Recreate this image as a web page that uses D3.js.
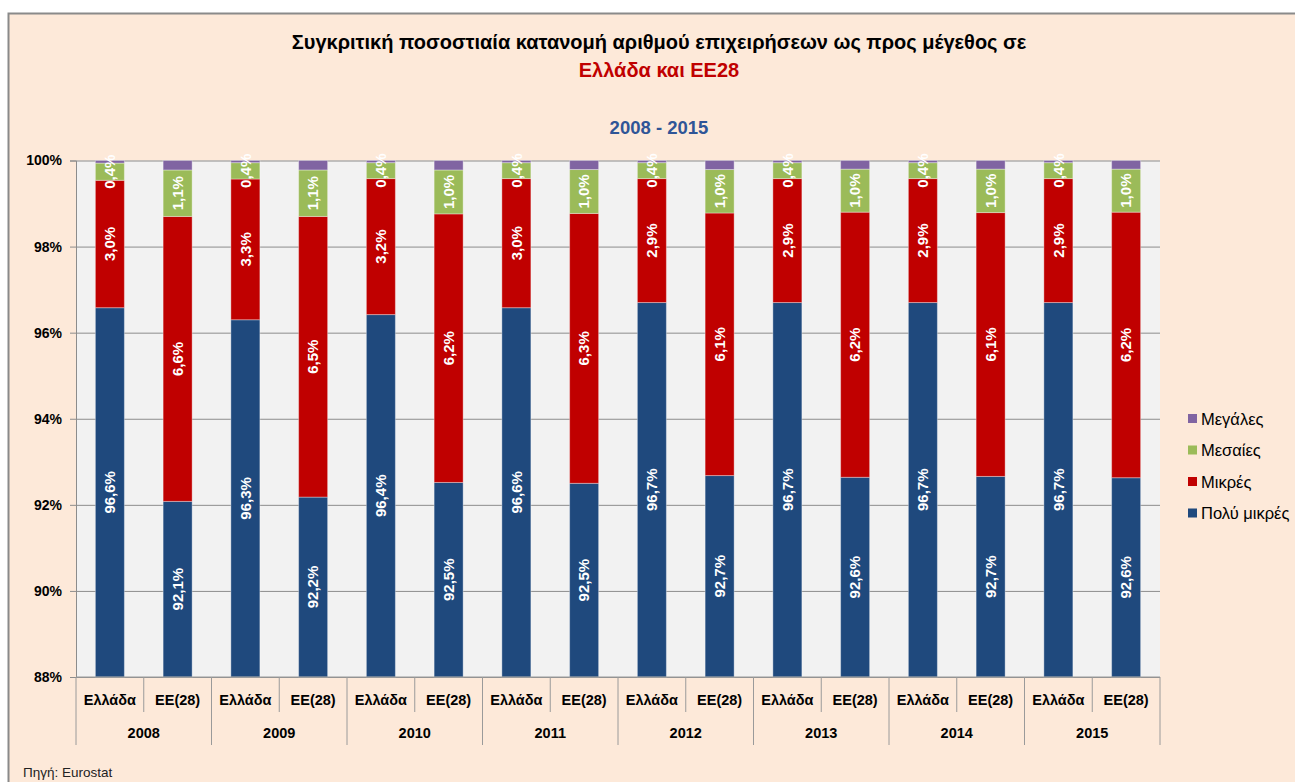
<!DOCTYPE html>
<html>
<head>
<meta charset="utf-8">
<script src="https://cdn.jsdelivr.net/npm/d3@7"></script>
<style>
  body { margin: 0; background: #fff; }
  text { font-family: "Liberation Sans", Arial, sans-serif; }
</style>
</head>
<body>
<script>
// data (percent of enterprises)
var years = ["2008", "2009", "2010", "2011", "2012", "2013", "2014", "2015"];
var areas = ["Ελλάδα", "ΕΕ(28)"];
var keys = ["vsmall", "small", "medium", "large"];
var keyNames = ["Πολύ μικρές", "Μικρές", "Μεσαίες", "Μεγάλες"];
var colors = ["#1F497D", "#C00000", "#9BBB59", "#8064A2"];

var grVsmall = [96.58, 96.30, 96.42, 96.58, 96.70, 96.70, 96.70, 96.70];
var grSmall  = [2.96, 3.27, 3.16, 3.00, 2.88, 2.88, 2.88, 2.88];
var grMedium = [0.40, 0.38, 0.37, 0.37, 0.37, 0.37, 0.37, 0.37];
var grLarge  = [0.06, 0.05, 0.05, 0.05, 0.05, 0.05, 0.05, 0.05];

var euVsmall = [92.08, 92.18, 92.52, 92.50, 92.68, 92.64, 92.66, 92.63];
var euSmall  = [6.62, 6.52, 6.24, 6.27, 6.10, 6.16, 6.13, 6.17];
var euMedium = [1.08, 1.08, 1.02, 1.02, 1.01, 1.00, 1.01, 1.00];
var euLarge  = [0.22, 0.22, 0.22, 0.21, 0.21, 0.20, 0.20, 0.20];

var yTicks = [88, 90, 92, 94, 96, 98, 100];

var width = 1295, height = 782;
var plot = {left: 76, right: 1160, top: 160.5, bottom: 677};

var rows = [];
years.forEach(function(yr, i) {
  rows.push({year: yr, area: areas[0], vsmall: grVsmall[i], small: grSmall[i], medium: grMedium[i], large: grLarge[i]});
  rows.push({year: yr, area: areas[1], vsmall: euVsmall[i], small: euSmall[i], medium: euMedium[i], large: euLarge[i]});
});

var svg = d3.select("body").append("svg")
    .attr("width", width)
    .attr("height", height);

// outer chart frame
svg.append("rect")
    .attr("x", 8.5).attr("y", 13.5)
    .attr("width", width + 10).attr("height", height + 10)
    .attr("fill", "#FDE9D9")
    .attr("stroke", "#8A8A8A")
    .attr("stroke-width", 2);

// titles
svg.append("text")
    .attr("x", 659).attr("y", 49)
    .attr("text-anchor", "middle")
    .style("font-size", "20px").style("font-weight", "bold")
    .attr("fill", "#000")
    .text("Συγκριτική ποσοστιαία κατανομή αριθμού επιχειρήσεων ως προς μέγεθος σε");
svg.append("text")
    .attr("x", 659).attr("y", 77)
    .attr("text-anchor", "middle")
    .style("font-size", "20px").style("font-weight", "bold")
    .attr("fill", "#C00000")
    .text("Ελλάδα και ΕΕ28");
svg.append("text")
    .attr("x", 659).attr("y", 134)
    .attr("text-anchor", "middle")
    .style("font-size", "18.5px").style("font-weight", "bold")
    .attr("fill", "#2F5597")
    .text("2008 - 2015");

var x0 = d3.scaleBand().domain(years).range([plot.left, plot.right]);
var x1 = d3.scaleBand().domain(areas).range([0, x0.bandwidth()])
    .paddingInner(0.572).paddingOuter(0.286);
var y = d3.scaleLinear().domain([88, 100]).range([plot.bottom, plot.top]).clamp(true);

// plot area
svg.append("rect")
    .attr("x", plot.left).attr("y", plot.top)
    .attr("width", plot.right - plot.left).attr("height", plot.bottom - plot.top)
    .attr("fill", "#F2F2F2");

// gridlines
svg.append("g")
    .attr("transform", "translate(" + plot.left + ",0)")
    .call(d3.axisLeft(y).tickValues(yTicks).tickSize(-(plot.right - plot.left)).tickFormat(""))
    .call(function(g) {
      g.select(".domain").remove();
      g.selectAll("line").attr("stroke", "#8C8C8C");
    });

// y axis
svg.append("g")
    .attr("transform", "translate(" + plot.left + ",0)")
    .call(d3.axisLeft(y).tickValues(yTicks).tickSize(6).tickPadding(8)
        .tickFormat(function(d) { return d + "%"; }))
    .call(function(g) {
      g.select(".domain").attr("stroke", "#8C8C8C");
      g.selectAll("line").attr("stroke", "#8C8C8C");
      g.selectAll("text")
          .style("font-size", "14px").style("font-weight", "bold")
          .style("font-family", "'Liberation Sans', Arial, sans-serif")
          .attr("fill", "#000");
    });

var series = d3.stack().keys(keys)(rows);

var groups = svg.selectAll(".layer")
    .data(series)
  .enter().append("g")
    .attr("class", "layer")
    .attr("fill", function(d, i) { return colors[i]; });

groups.selectAll("rect")
    .data(function(d) { return d; })
  .enter().append("rect")
    .attr("x", function(d) { return x0(d.data.year) + x1(d.data.area); })
    .attr("width", x1.bandwidth())
    .attr("y", function(d) { return y(d[1]); })
    .attr("height", function(d) { return y(d[0]) - y(d[1]); })
    .attr("stroke", "#ffffff")
    .attr("stroke-opacity", 0.35)
    .attr("stroke-width", 1);

// data labels (not for the largest size class)
function fmt(v) { return v.toFixed(1).replace(".", ",") + "%"; }

series.slice(0, 3).forEach(function(s) {
  svg.append("g").selectAll("text")
      .data(s)
    .enter().append("text")
      .attr("transform", function(d) {
        var cx = x0(d.data.year) + x1(d.data.area) + x1.bandwidth() / 2;
        var cy = (y(d[0]) + y(d[1])) / 2;
        return "translate(" + cx + "," + cy + ") rotate(-90)";
      })
      .attr("text-anchor", "middle")
      .attr("dy", "0.35em")
      .attr("fill", "#fff")
      .style("font-size", "15px").style("font-weight", "bold")
      .text(function(d) { return fmt(d[1] - d[0]); });
});

// bottom category axis
var axisColor = "#9A9A9A";
svg.append("line")
    .attr("x1", plot.left).attr("x2", plot.right)
    .attr("y1", plot.bottom).attr("y2", plot.bottom)
    .attr("stroke", axisColor);

var bottom = svg.append("g");
bottom.selectAll(".sep-year")
    .data(years.concat(["end"]))
  .enter().append("line")
    .attr("x1", function(d) { return d === "end" ? plot.right : x0(d); })
    .attr("x2", function(d) { return d === "end" ? plot.right : x0(d); })
    .attr("y1", plot.bottom).attr("y2", 745)
    .attr("stroke", axisColor);

bottom.selectAll(".sep-area")
    .data(years)
  .enter().append("line")
    .attr("x1", function(d) { return x0(d) + x0.bandwidth() / 2; })
    .attr("x2", function(d) { return x0(d) + x0.bandwidth() / 2; })
    .attr("y1", plot.bottom).attr("y2", 712)
    .attr("stroke", axisColor);

bottom.selectAll(".lab-area")
    .data(rows)
  .enter().append("text")
    .attr("x", function(d) { return x0(d.year) + x1(d.area) + x1.bandwidth() / 2; })
    .attr("y", 705)
    .attr("text-anchor", "middle")
    .style("font-size", "14.5px").style("font-weight", "bold")
    .text(function(d) { return d.area; });

bottom.selectAll(".lab-year")
    .data(years)
  .enter().append("text")
    .attr("x", function(d) { return x0(d) + x0.bandwidth() / 2; })
    .attr("y", 738)
    .attr("text-anchor", "middle")
    .style("font-size", "14.5px").style("font-weight", "bold")
    .text(function(d) { return d; });

// legend, largest class on top
var legend = svg.append("g")
    .attr("transform", "translate(1188,419)");

var legItems = legend.selectAll("g")
    .data(d3.range(keys.length).reverse())
  .enter().append("g")
    .attr("transform", function(d, i) { return "translate(0," + (i * 31.5) + ")"; });

legItems.append("rect")
    .attr("x", 0).attr("y", -5)
    .attr("width", 9).attr("height", 9)
    .attr("fill", function(d) { return colors[d]; });

legItems.append("text")
    .attr("x", 13).attr("y", 0)
    .attr("dy", "0.35em")
    .style("font-size", "16.5px")
    .attr("fill", "#000")
    .text(function(d) { return keyNames[d]; });

// source
svg.append("text")
    .attr("x", 23).attr("y", 777)
    .style("font-size", "13.5px")
    .attr("fill", "#222")
    .text("Πηγή: Eurostat");
</script>
</body>
</html>
